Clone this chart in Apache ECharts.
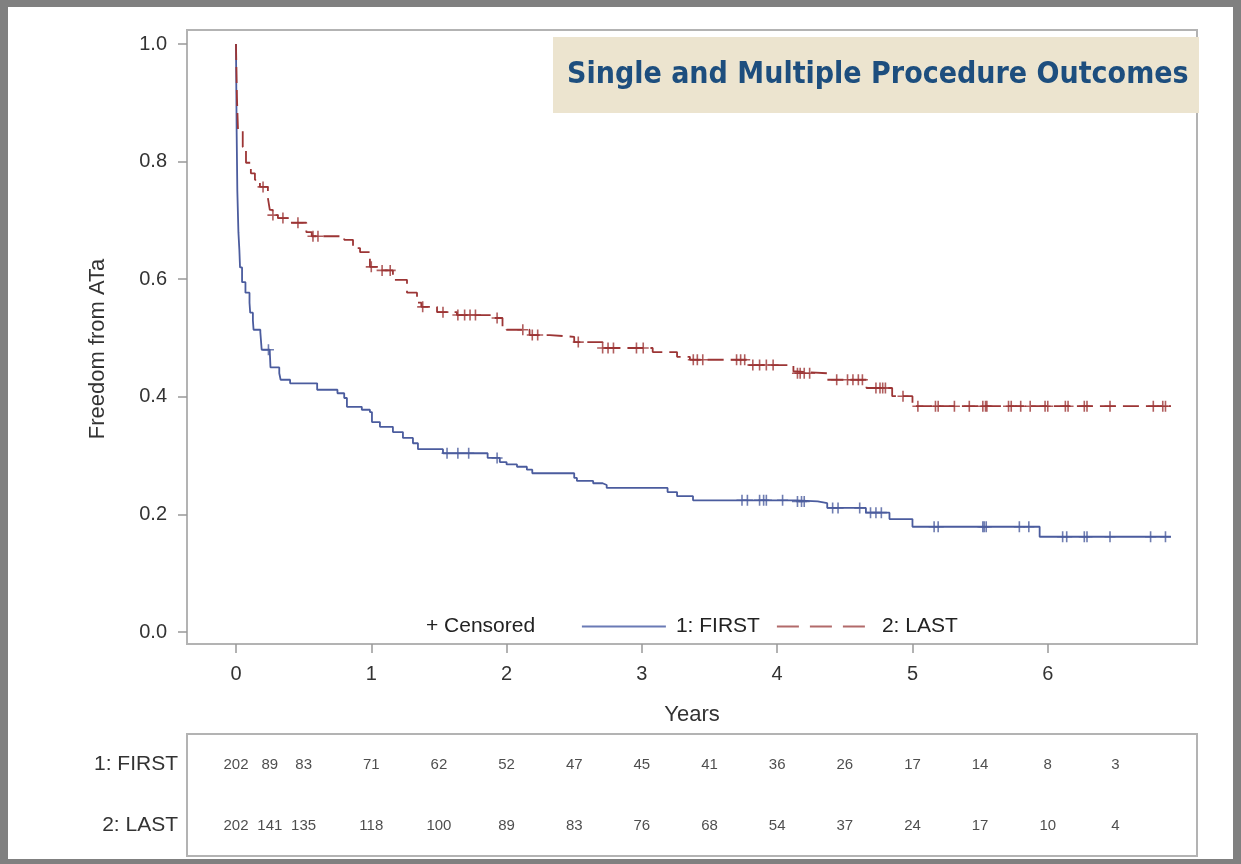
<!DOCTYPE html>
<html>
<head>
<meta charset="utf-8">
<script src="https://cdn.jsdelivr.net/npm/echarts@6/dist/echarts.min.js"></script>
<style>
  html, body { margin: 0; padding: 0; background: #808080; }
  #panel { position: absolute; left: 8px; top: 7px; width: 1225px; height: 852px; background: #ffffff; }
  #chart { position: absolute; left: 0; top: 0; width: 1241px; height: 864px; }
</style>
</head>
<body>
<div id="panel"></div>
<div id="chart"></div>
<script>
// ---------- data ----------
const titleText = 'Single and Multiple Procedure Outcomes';
const xTicks = [0, 1, 2, 3, 4, 5, 6];
const yTicks = [0, 0.2, 0.4, 0.6, 0.8, 1.0];

// Group 1: FIRST (single procedure) - step points: time (years), survival
const firstTimes = [0, 0.005, 0.01, 0.018, 0.025, 0.03, 0.045, 0.07, 0.1, 0.105, 0.125, 0.13, 0.18, 0.19, 0.25, 0.255, 0.32, 0.33, 0.40, 0.6, 0.75, 0.8, 0.82, 0.93, 0.99, 1.005, 1.064, 1.16, 1.234, 1.308, 1.345, 1.53, 1.86, 1.95, 2.0, 2.077, 2.15, 2.19, 2.5, 2.52, 2.64, 2.71, 2.74, 3.19, 3.26, 3.378, 4.14, 4.3, 4.37, 4.656, 4.83, 5.0, 5.94, 6.91];
const firstSurv  = [1.0, 0.85, 0.75, 0.68, 0.65, 0.62, 0.595, 0.577, 0.56, 0.543, 0.53, 0.514, 0.51, 0.48, 0.476, 0.45, 0.44, 0.429, 0.423, 0.412, 0.406, 0.398, 0.383, 0.378, 0.374, 0.357, 0.349, 0.34, 0.33, 0.321, 0.311, 0.304, 0.296, 0.289, 0.285, 0.281, 0.276, 0.27, 0.262, 0.257, 0.253, 0.25, 0.245, 0.238, 0.231, 0.224, 0.222, 0.219, 0.211, 0.203, 0.192, 0.179, 0.162, 0.162];
const firstCensor = [0.24, 1.56, 1.64, 1.72, 1.93, 3.74, 3.78, 3.87, 3.90, 3.92, 4.04, 4.15, 4.18, 4.20, 4.41, 4.45, 4.61, 4.69, 4.73, 4.77, 5.16, 5.19, 5.52, 5.53, 5.545, 5.79, 5.86, 6.11, 6.14, 6.27, 6.29, 6.46, 6.76, 6.87];

// Group 2: LAST (multiple procedures)
const lastTimes = [0, 0.007, 0.015, 0.05, 0.074, 0.11, 0.14, 0.177, 0.236, 0.25, 0.27, 0.31, 0.40, 0.52, 0.56, 0.8, 0.865, 0.917, 0.99, 1.06, 1.16, 1.264, 1.338, 1.37, 1.486, 1.633, 1.9, 1.97, 2.0, 2.17, 2.32, 2.5, 2.71, 3.08, 3.26, 3.355, 3.78, 4.12, 4.14, 4.37, 4.66, 4.85, 5.0, 6.91];
const lastSurv  = [1.0, 0.91, 0.854, 0.825, 0.798, 0.78, 0.769, 0.757, 0.738, 0.718, 0.709, 0.704, 0.696, 0.68, 0.673, 0.667, 0.653, 0.646, 0.621, 0.615, 0.599, 0.577, 0.56, 0.553, 0.544, 0.539, 0.534, 0.519, 0.514, 0.505, 0.502, 0.493, 0.483, 0.476, 0.468, 0.463, 0.454, 0.443, 0.44, 0.429, 0.415, 0.401, 0.384, 0.384];
const lastCensor = [0.2, 0.273, 0.347, 0.458, 0.569, 0.606, 1.0, 1.08, 1.14, 1.38, 1.53, 1.64, 1.69, 1.73, 1.77, 1.93, 2.12, 2.19, 2.23, 2.53, 2.71, 2.75, 2.79, 2.96, 3.01, 3.38, 3.41, 3.45, 3.70, 3.73, 3.76, 3.82, 3.87, 3.92, 3.97, 4.15, 4.17, 4.20, 4.24, 4.44, 4.52, 4.56, 4.60, 4.63, 4.73, 4.76, 4.78, 4.80, 4.93, 5.04, 5.17, 5.19, 5.31, 5.42, 5.52, 5.54, 5.55, 5.71, 5.73, 5.80, 5.87, 5.98, 6.0, 6.13, 6.15, 6.27, 6.29, 6.46, 6.78, 6.85, 6.87];

// Number at risk table
const riskTimes = [0, 0.25, 0.5, 1, 1.5, 2, 2.5, 3, 3.5, 4, 4.5, 5, 5.5, 6, 6.5];
const riskFirst = [202, 89, 83, 71, 62, 52, 47, 45, 41, 36, 26, 17, 14, 8, 3];
const riskLast  = [202, 141, 135, 118, 100, 89, 83, 76, 68, 54, 37, 24, 17, 10, 4];
const groupNames = ['1: FIRST', '2: LAST'];

// ---------- helpers ----------
function pairs(ts, vs) { return ts.map((t, i) => [t, vs[i]]); }
function survAt(ts, vs, t) {
  let v = vs[0];
  for (let i = 0; i < ts.length; i++) { if (ts[i] <= t) v = vs[i]; }
  return v;
}
const BLUE = '#4b5c9e';
const RED = '#9c3535';
const FONT = '"Liberation Sans", Arial, sans-serif';
const plusSymbol = 'path://M5,0L5,10M0,5L10,5';
const hiddenLegendSymbol = { color: 'transparent', borderColor: 'transparent', borderWidth: 0, opacity: 0 };

const xMin = -0.362, xMax = 7.103;
const yMin = -0.0204, yMax = 1.0238;

const chart = echarts.init(document.getElementById('chart'), null, { renderer: 'canvas' });

const option = {
  backgroundColor: 'transparent',
  textStyle: { fontFamily: FONT },
  animation: false,
  grid: [
    { left: 187, right: 44, top: 30, bottom: 220, show: true, borderColor: '#b3b3b3', borderWidth: 2, backgroundColor: 'transparent' },
    { left: 187, right: 44, top: 734, bottom: 8, show: true, borderColor: '#b3b3b3', borderWidth: 2, backgroundColor: 'transparent' }
  ],
  xAxis: [
    {
      type: 'value', gridIndex: 0, min: xMin, max: xMax,
      name: 'Years', nameLocation: 'middle', nameGap: 60,
      nameTextStyle: { fontSize: 22, color: '#333', fontFamily: FONT },
      axisLine: { show: false, onZero: false },
      axisTick: { show: true, customValues: xTicks, length: 9, lineStyle: { color: '#999', width: 1.5 } },
      axisLabel: { show: true, customValues: xTicks, fontSize: 20, color: '#333', margin: 20, fontFamily: FONT },
      splitLine: { show: false }
    },
    {
      type: 'value', gridIndex: 1, min: xMin, max: xMax,
      axisLine: { show: false, onZero: false }, axisTick: { show: false }, axisLabel: { show: false }, splitLine: { show: false }
    }
  ],
  yAxis: [
    {
      type: 'value', gridIndex: 0, min: yMin, max: yMax,
      name: 'Freedom from ATa', nameLocation: 'middle', nameGap: 78, nameRotate: 90,
      nameTextStyle: { fontSize: 22, color: '#333', fontFamily: FONT, padding: [0, 24, 0, 0] },
      axisLine: { show: false, onZero: false },
      axisTick: { show: true, customValues: yTicks, length: 9, lineStyle: { color: '#999', width: 1.5 } },
      axisLabel: { show: true, customValues: yTicks, fontSize: 20, color: '#333', margin: 20, fontFamily: FONT,
                   formatter: v => Number(v).toFixed(1) },
      splitLine: { show: false }
    },
    {
      type: 'category', gridIndex: 1, data: [groupNames[1], groupNames[0]],
      axisLine: { show: false, onZero: false }, axisTick: { show: false },
      axisLabel: { fontSize: 21, color: '#333', margin: 9, fontFamily: FONT },
      splitLine: { show: false }
    }
  ],
  legend: [
    { data: [{ name: '+ Censored', icon: 'none' }], left: 416, top: 611, itemWidth: 0, itemHeight: 12,
      itemStyle: hiddenLegendSymbol,
      textStyle: { fontSize: 21, color: '#222', fontFamily: FONT }, selectedMode: false },
    { data: ['1: FIRST'], left: 576, top: 611, itemWidth: 84, itemHeight: 12,
      itemStyle: hiddenLegendSymbol,
      lineStyle: { color: '#6a7ab5', width: 1.8 },
      textStyle: { fontSize: 21, color: '#222', fontFamily: FONT, padding: [0, 0, 0, 5] }, selectedMode: false },
    { data: ['2: LAST'], left: 771, top: 611, itemWidth: 88, itemHeight: 12,
      itemStyle: hiddenLegendSymbol,
      lineStyle: { color: '#b26a6a', width: 1.8, type: [22, 11] },
      textStyle: { fontSize: 21, color: '#222', fontFamily: FONT, padding: [0, 0, 0, 12] }, selectedMode: false }
  ],
  graphic: [
    { type: 'rect', shape: { x: 553, y: 37, width: 646, height: 76 }, style: { fill: '#ece4cf' }, z: 10 },
    { type: 'text', x: 567, y: 75, z: 11,
      style: { text: titleText, fill: '#1d4e7e', textVerticalAlign: 'middle',
               font: 'bold 30px "DejaVu Sans Condensed", "Liberation Sans Narrow", "Roboto Condensed", sans-serif' } }
  ],
  series: [
    {
      name: '1: FIRST', type: 'line', xAxisIndex: 0, yAxisIndex: 0, step: 'end', symbol: 'none',
      data: pairs(firstTimes, firstSurv),
      lineStyle: { color: BLUE, width: 1.8 }, itemStyle: { color: BLUE }, z: 3
    },
    {
      name: '2: LAST', type: 'line', xAxisIndex: 0, yAxisIndex: 0, step: 'end', symbol: 'none',
      data: pairs(lastTimes, lastSurv),
      lineStyle: { color: RED, width: 1.8, type: [16, 7] }, itemStyle: { color: RED }, z: 3
    },
    {
      name: '+ Censored', type: 'scatter', xAxisIndex: 0, yAxisIndex: 0,
      symbol: plusSymbol, symbolSize: 11,
      data: firstCensor.map(t => [t, survAt(firstTimes, firstSurv, t)]),
      itemStyle: { color: 'transparent', borderColor: BLUE, borderWidth: 1.6 }, z: 4
    },
    {
      name: '+ Censored', type: 'scatter', xAxisIndex: 0, yAxisIndex: 0,
      symbol: plusSymbol, symbolSize: 11,
      data: lastCensor.map(t => [t, survAt(lastTimes, lastSurv, t)]),
      itemStyle: { color: 'transparent', borderColor: RED, borderWidth: 1.6 }, z: 4
    },
    {
      name: 'risk1', type: 'scatter', xAxisIndex: 1, yAxisIndex: 1, symbolSize: 0,
      data: riskTimes.map((t, i) => [t, groupNames[0], riskFirst[i]]),
      label: { show: true, position: 'inside', formatter: p => String(p.value[2]), fontSize: 15, color: '#222', fontFamily: FONT }
    },
    {
      name: 'risk2', type: 'scatter', xAxisIndex: 1, yAxisIndex: 1, symbolSize: 0,
      data: riskTimes.map((t, i) => [t, groupNames[1], riskLast[i]]),
      label: { show: true, position: 'inside', formatter: p => String(p.value[2]), fontSize: 15, color: '#222', fontFamily: FONT }
    }
  ]
};
chart.setOption(option);
</script>
</body>
</html>
